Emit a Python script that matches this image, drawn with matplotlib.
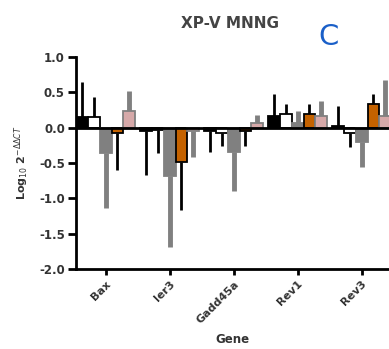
import numpy as np
import matplotlib.pyplot as plt

# genes and the five series (log scale)
genes = ["Bax", "Ier3", "Gadd45a", "Rev1", "Rev3"]

black = [0.15, -0.05, -0.05, 0.16, 0.02]
black_err = [0.49, 0.62, 0.29, 0.31, 0.28]
white = [0.15, -0.04, -0.07, 0.20, -0.07]
white_err = [0.29, 0.32, 0.19, 0.14, 0.21]
gray = [-0.36, -0.69, -0.34, 0.07, -0.20]
gray_err = [0.78, 1.00, 0.56, 0.17, 0.36]
orange = [-0.08, -0.48, -0.05, 0.20, 0.33]
orange_err = [0.52, 0.68, 0.21, 0.14, 0.14]
pink = [0.24, -0.05, 0.07, 0.16, 0.16]
pink_err = [0.28, 0.36, 0.11, 0.22, 0.52]

series = [
    (black, black_err, "black", "black", "black", 2.0),
    (white, white_err, "white", "black", "black", 2.0),
    (gray, gray_err, "#808080", "#808080", "#808080", 3.5),
    (orange, orange_err, "#c46200", "black", "black", 2.0),
    (pink, pink_err, "#d6a9a9", "#808080", "#808080", 3.5),
]

fig = plt.figure(figsize=(3.89, 3.49), dpi=100)
ax = fig.add_axes([76 / 389, 80 / 349, 313 / 389, 212 / 349])

x = np.arange(len(genes))
w = 0.185
for i, (vals, errs, fc, ec, errc, elw) in enumerate(series):
    xs = x + i * w
    ax.bar(xs, vals, w, align="edge", color=fc, edgecolor=ec, linewidth=1.3, zorder=2)
    lower = [e if v < 0 else 0 for v, e in zip(vals, errs)]
    upper = [e if v >= 0 else 0 for v, e in zip(vals, errs)]
    ax.errorbar(xs + w / 2, vals, yerr=[lower, upper], fmt="none",
                ecolor=errc, elinewidth=elw, capsize=0, zorder=1)

ax.axhline(0, color="black", lw=2, zorder=5)

ax.set_xlim(0, 313 / 64)
ax.set_ylim(-2.0, 1.0)
ax.set_yticks(np.arange(-2.0, 1.01, 0.5))
ax.set_yticklabels([f"{t:.1f}" for t in np.arange(-2.0, 1.01, 0.5)],
                   fontsize=8.5, fontweight="bold", color="#333333")
ax.set_xticks(x + 2.5 * w)
ax.set_xticklabels(genes, rotation=45, ha="right", rotation_mode="anchor",
                   fontsize=8, fontweight="bold", color="#333333")

for s in ["top", "right"]:
    ax.spines[s].set_visible(False)
for s in ["left", "bottom"]:
    ax.spines[s].set_linewidth(2)
ax.tick_params(axis="y", length=6, width=2, pad=2)
ax.tick_params(axis="x", length=4, width=2, pad=3)

ax.set_ylabel("Log$_{10}$ 2$^{-\\Delta\\Delta CT}$", fontsize=8,
              fontweight="bold", color="#333333", labelpad=6)
ax.set_xlabel("Gene", fontsize=8.5, fontweight="bold", color="#333333", labelpad=6)

fig.text(230 / 389, 1 - 24 / 349, "XP-V MNNG", ha="center", va="center",
         fontsize=11, fontweight="bold", color="#444444")
fig.text(329 / 389, 1 - 37 / 349, "C", ha="center", va="center",
         fontsize=21, color="#1a5fc8")

fig.savefig("out.png", dpi=100)
